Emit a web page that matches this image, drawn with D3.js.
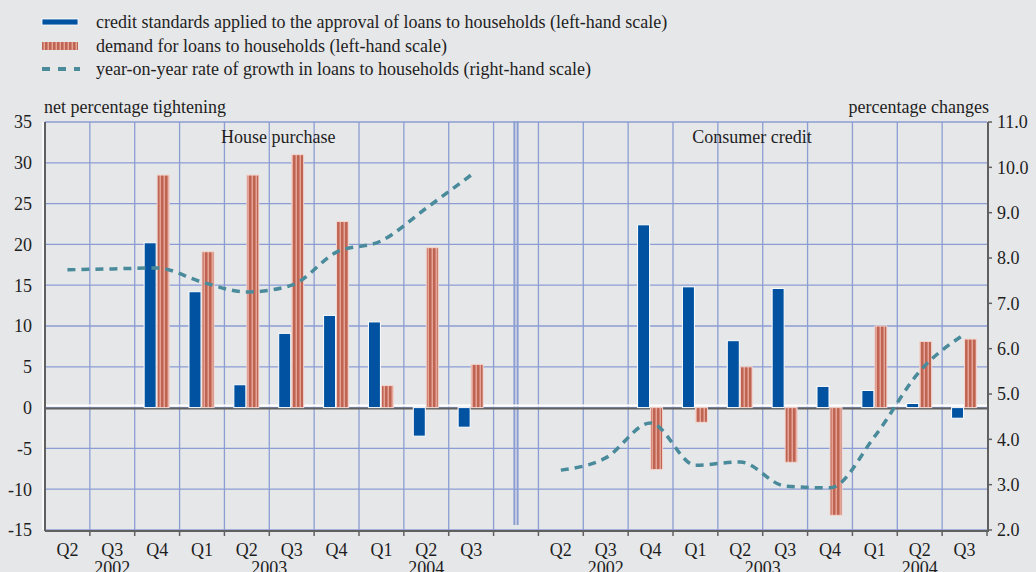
<!DOCTYPE html>
<html>
<head>
<meta charset="utf-8">
<script src="https://cdn.jsdelivr.net/npm/d3@7"></script>
<style>
  html, body { margin: 0; padding: 0; background: #e6e7e9; }
  svg { display: block; font-family: "Liberation Serif", "Times New Roman", serif; }
</style>
</head>
<body>
<script>
// quarters per panel, a gap slot sits between the two panels
const quarters = ['Q2', 'Q3', 'Q4', 'Q1', 'Q2', 'Q3', 'Q4', 'Q1', 'Q2', 'Q3'];
const years = [
  { label: '2002', at: 1 },
  { label: '2003', at: 4.5 },
  { label: '2004', at: 8 },
];
const panels = [
  { label: 'House purchase', at: 5.2 },
  { label: 'Consumer credit', at: 15.76 },
];

// house purchase
const houseStandards = [null, null, 20.2, 14.2, 2.8, 9.1, 11.3, 10.5, -3.5, -2.4];
const houseDemand = [null, null, 28.5, 19.1, 28.5, 31.0, 22.8, 2.7, 19.6, 5.3];
const houseGrowth = [7.74, 7.76, 7.78, 7.47, 7.25, 7.40, 8.13, 8.38, 9.1, 9.83];

// consumer credit
const consStandards = [null, null, 22.4, 14.8, 8.2, 14.6, 2.6, 2.1, 0.5, -1.3];
const consDemand = [null, null, -7.6, -1.8, 5.0, -6.7, -13.2, 10.0, 8.1, 8.4];
const consGrowth = [3.32, 3.59, 4.36, 3.43, 3.5, 2.97, 2.93, 4.07, 5.5, 6.32];

const leftTicks = [-15, -10, -5, 0, 5, 10, 15, 20, 25, 30, 35];
const rightTicks = [2, 3, 4, 5, 6, 7, 8, 9, 10, 11];

const legendItems = [
  'credit standards applied to the approval of loans to households (left-hand scale)',
  'demand for loans to households (left-hand scale)',
  'year-on-year rate of growth in loans to households (right-hand scale)',
];

const width = 1036, height = 572;
const margin = { left: 45, right: 49, top: 122, bottom: 42 };
const fs = 18;
const blue = '#0152a1', redDark = '#bf6352', redLight = '#e4a496';
const teal = '#4a8b9b', grid = '#8b9dd3', axisCol = '#606060', ink = '#1e1e1e';

const svg = d3.select('body').append('svg')
  .attr('width', width).attr('height', height);

const defs = svg.append('defs');
const pat = defs.append('pattern')
  .attr('id', 'stripes').attr('patternUnits', 'userSpaceOnUse')
  .attr('width', 4).attr('height', 4);
pat.append('rect').attr('width', 4).attr('height', 4).attr('fill', redLight);
pat.append('rect').attr('x', 1).attr('width', 2.5).attr('height', 4).attr('fill', redDark);

// slots: 10 + gap + 10
const slots = d3.range(21);
const x = d3.scaleBand().domain(slots).range([margin.left, width - margin.right]).padding(0);
const y = d3.scaleLinear().domain([-15, 35]).range([height - margin.bottom, margin.top]);
const y2 = d3.scaleLinear().domain([2, 11]).range([height - margin.bottom, margin.top]);
const bw = x.bandwidth();
const x0 = margin.left, x1 = width - margin.right;
const yBottom = y(-15), yTop = y(35);

// horizontal grid
svg.append('g').selectAll('line').data(leftTicks).join('line')
  .attr('x1', x0).attr('x2', x1)
  .attr('y1', d => y(d)).attr('y2', d => y(d))
  .attr('stroke', grid).attr('stroke-width', 1.3);

// vertical grid at slot boundaries
const bounds = d3.range(1, 21);
svg.append('g').selectAll('line').data(bounds).join('line')
  .attr('x1', d => x(d)).attr('x2', d => x(d))
  .attr('y1', yTop).attr('y2', yBottom)
  .attr('stroke', grid).attr('stroke-width', 1.3);

// panel divider
const mid = x(10) + bw / 2;
svg.append('g').selectAll('line').data([-1.6, 1.6]).join('line')
  .attr('x1', d => mid + d).attr('x2', d => mid + d)
  .attr('y1', yTop - 1).attr('y2', yBottom - 5)
  .attr('stroke', grid).attr('stroke-width', 2);

// zero line
svg.append('line').attr('x1', x0).attr('x2', x1)
  .attr('y1', y(0) - 2).attr('y2', y(0) - 2)
  .attr('stroke', '#fff').attr('stroke-width', 2);
svg.append('line').attr('x1', x0).attr('x2', x1)
  .attr('y1', y(0) + 1).attr('y2', y(0) + 1)
  .attr('stroke', axisCol).attr('stroke-width', 2);

function drawPanel(offset, standards, demand, growth) {
  const g = svg.append('g');
  const cx = i => x(i + offset) + bw / 2;

  g.selectAll('rect.std').data(standards.map((v, i) => ({ v, i })).filter(d => d.v !== null))
    .join('rect').attr('class', 'std')
    .attr('x', d => cx(d.i) - 13).attr('width', 12)
    .attr('y', d => y(Math.max(0, d.v))).attr('height', d => Math.abs(y(d.v) - y(0)))
    .attr('fill', blue).attr('stroke', '#fff').attr('stroke-width', 1);

  g.selectAll('rect.dem').data(demand.map((v, i) => ({ v, i })).filter(d => d.v !== null))
    .join('rect').attr('class', 'dem')
    .attr('x', d => cx(d.i)).attr('width', 12)
    .attr('y', d => y(Math.max(0, d.v))).attr('height', d => Math.abs(y(d.v) - y(0)))
    .attr('fill', 'url(#stripes)').attr('stroke', '#f3d6cf').attr('stroke-width', 1);

  const line = d3.line().x((d, i) => cx(i)).y(d => y2(d)).curve(d3.curveMonotoneX);
  g.append('path').datum(growth).attr('d', line)
    .attr('fill', 'none').attr('stroke', teal).attr('stroke-width', 3.5)
    .attr('stroke-dasharray', '8,6');
}
drawPanel(0, houseStandards, houseDemand, houseGrowth);
drawPanel(11, consStandards, consDemand, consGrowth);

// left axis
svg.append('line').attr('x1', x0 - 2).attr('x2', x0 - 2).attr('y1', yTop).attr('y2', yBottom)
  .attr('stroke', '#fff').attr('stroke-width', 1.5);
svg.append('line').attr('x1', x0).attr('x2', x0).attr('y1', yTop).attr('y2', yBottom + 1)
  .attr('stroke', axisCol).attr('stroke-width', 2);
svg.append('g').selectAll('text').data(leftTicks).join('text')
  .attr('x', 32).attr('y', d => y(d)).attr('dy', '0.35em')
  .attr('text-anchor', 'end').attr('font-size', fs).attr('fill', ink)
  .text(d => d);

// right axis
svg.append('line').attr('x1', x1 + 1).attr('x2', x1 + 1).attr('y1', yTop).attr('y2', yBottom)
  .attr('stroke', axisCol).attr('stroke-width', 2);
svg.append('g').selectAll('line').data(rightTicks).join('line')
  .attr('x1', x1 + 1).attr('x2', x1 + 5)
  .attr('y1', d => y2(d)).attr('y2', d => y2(d))
  .attr('stroke', axisCol).attr('stroke-width', 1.5);
svg.append('g').selectAll('text').data(rightTicks).join('text')
  .attr('x', x1 + 10).attr('y', d => y2(d)).attr('dy', '0.35em')
  .attr('font-size', fs).attr('fill', ink)
  .text(d => d3.format('.1f')(d));

// bottom axis
svg.append('line').attr('x1', x0).attr('x2', x1 + 2).attr('y1', yBottom + 1).attr('y2', yBottom + 1)
  .attr('stroke', axisCol).attr('stroke-width', 2);
svg.append('g').selectAll('line').data(d3.range(1, 22)).join('line')
  .attr('x1', d => x0 + d * bw).attr('x2', d => x0 + d * bw)
  .attr('y1', yBottom + 1).attr('y2', yBottom + 6)
  .attr('stroke', axisCol).attr('stroke-width', 1.5);

[0, 11].forEach(offset => {
  svg.append('g').selectAll('text').data(quarters).join('text')
    .attr('x', (d, i) => x(i + offset) + bw / 2).attr('y', 556)
    .attr('text-anchor', 'middle').attr('font-size', fs).attr('fill', ink)
    .text(d => d);
  svg.append('g').selectAll('text').data(years).join('text')
    .attr('x', d => x0 + (d.at + offset + 0.5) * bw).attr('y', 574)
    .attr('text-anchor', 'middle').attr('font-size', fs).attr('fill', ink)
    .text(d => d.label);
});

// titles
svg.append('text').attr('x', 44).attr('y', 113).attr('font-size', fs).attr('fill', ink)
  .text('net percentage tightening');
svg.append('text').attr('x', x1 + 2).attr('y', 113).attr('text-anchor', 'end')
  .attr('font-size', fs).attr('fill', ink).text('percentage changes');
svg.append('g').selectAll('text').data(panels).join('text')
  .attr('x', d => x0 + d.at * bw).attr('y', 143)
  .attr('text-anchor', 'middle').attr('font-size', fs).attr('fill', ink)
  .text(d => d.label);

// legend
const lg = svg.append('g');
const ly = [22, 46, 69];
lg.append('rect').attr('x', 42).attr('y', ly[0] - 3).attr('width', 36).attr('height', 6)
  .attr('fill', blue).attr('stroke', '#fff').attr('stroke-width', 0.8);
lg.append('rect').attr('x', 42).attr('y', ly[1] - 4).attr('width', 36).attr('height', 8)
  .attr('fill', 'url(#stripes)');
lg.append('line').attr('x1', 42).attr('x2', 80).attr('y1', ly[2]).attr('y2', ly[2])
  .attr('stroke', teal).attr('stroke-width', 4).attr('stroke-dasharray', '8,8');
lg.selectAll('text').data(legendItems).join('text')
  .attr('x', 96).attr('y', (d, i) => ly[i]).attr('dy', '0.32em')
  .attr('font-size', fs).attr('fill', ink)
  .text(d => d);
</script>
</body>
</html>
